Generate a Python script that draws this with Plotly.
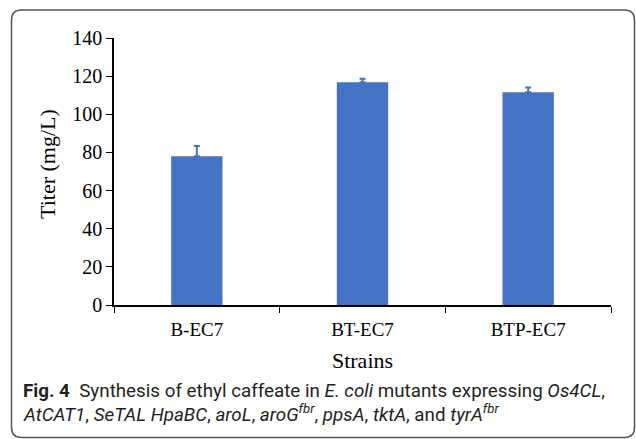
import plotly.graph_objects as go

strains = ["B-EC7", "BT-EC7", "BTP-EC7"]
titer = [78, 116.8, 111.5]
titer_err = [5.4, 1.8, 2.5]
y_ticks = [0, 20, 40, 60, 80, 100, 120, 140]

W, H = 636, 439
L, R, T, B = 114, 25, 38, 134
pw, ph = W - L - R, H - T - B

def px(x):
    return (x - L) / pw

def py(y):
    return (H - B - y) / ph

fig = go.Figure()
fig.add_trace(go.Bar(
    x=strains, y=titer, width=0.31,
    marker=dict(color="#4472C4", line=dict(width=0)),
    error_y=dict(type="data", array=titer_err, arrayminus=[0, 0, 0], symmetric=False,
                 color="#4472C4", thickness=2, width=3),
))

# rounded frame
x0, x1, y0, y1, r = 11.5, 634.5, 10, 437.5, 10
path = (f"M {px(x0)},{py(y0 + r)} Q {px(x0)},{py(y0)} {px(x0 + r)},{py(y0)} "
        f"L {px(x1 - r)},{py(y0)} Q {px(x1)},{py(y0)} {px(x1)},{py(y0 + r)} "
        f"L {px(x1)},{py(y1 - r)} Q {px(x1)},{py(y1)} {px(x1 - r)},{py(y1)} "
        f"L {px(x0 + r)},{py(y1)} Q {px(x0)},{py(y1)} {px(x0)},{py(y1 - r)} Z")
fig.add_shape(type="path", path=path, xref="paper", yref="paper",
              line=dict(color="#555555", width=1.5), fillcolor="rgba(0,0,0,0)")

cap_font = dict(family="Roboto, sans-serif", size=18.8, color="#231f20")
fig.add_annotation(
    x=px(21), y=py(391), xref="paper", yref="paper", xanchor="left", yanchor="middle",
    showarrow=False, font=cap_font,
    text="<b>Fig. 4</b>  Synthesis of ethyl caffeate in <i>E. coli</i> mutants expressing <i>Os4CL</i>,")
fig.add_annotation(
    x=px(21), y=py(414), xref="paper", yref="paper", xanchor="left", yanchor="middle",
    showarrow=False, font=cap_font,
    text="<i>AtCAT1</i>, <i>SeTAL HpaBC</i>, <i>aroL</i>, <i>aroG<sup>fbr</sup></i>, <i>ppsA</i>, <i>tktA</i>, and <i>tyrA<sup>fbr</sup></i>")

# y-axis title
fig.add_annotation(
    x=px(47), y=py(164), xref="paper", yref="paper", xanchor="center", yanchor="middle",
    showarrow=False, textangle=-90,
    font=dict(family="Liberation Serif, Times New Roman, serif", size=22, color="black"),
    text="Titer (mg/L)")

fig.update_layout(
    width=W, height=H,
    margin=dict(l=L, r=R, t=T, b=B, autoexpand=False),
    plot_bgcolor="white", paper_bgcolor="white",
    showlegend=False,
    font=dict(family="Liberation Serif, Times New Roman, serif", color="black"),
    xaxis=dict(
        automargin=False,
        showline=True, linecolor="black", linewidth=1.5,
        ticks="outside", tickson="boundaries", ticklen=6, tickcolor="black",
        tickfont=dict(size=19), ticklabelstandoff=6,
        title=dict(text="Strains", font=dict(size=22), standoff=14),
    ),
    yaxis=dict(
        automargin=False,
        range=[0, 140], tickvals=y_ticks,
        showline=True, linecolor="black", linewidth=1.5,
        ticks="outside", ticklen=6, tickcolor="black",
        showgrid=False, zeroline=False,
        tickfont=dict(size=20),
    ),
)

fig.write_html("out.html", config={"displayModeBar": False},
               post_script="document.body.style.margin='0';document.body.style.overflow='hidden';")
